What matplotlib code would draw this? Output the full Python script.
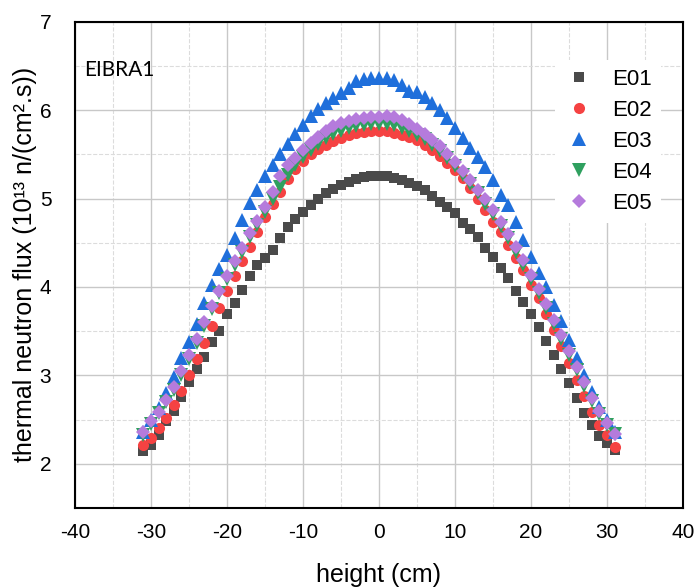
import matplotlib
matplotlib.use('Agg')
import matplotlib.pyplot as plt
from matplotlib.ticker import MultipleLocator

plt.rcParams['font.family'] = ['Liberation Sans', 'DejaVu Sans']
plt.rcParams['axes.unicode_minus'] = False

# Posiciones de medida (cm)
height = list(range(-31, 32))

# Flujo de neutrones térmicos (10^13 n/(cm2.s))
e01 = [2.14, 2.21, 2.33, 2.48, 2.60, 2.76, 2.92, 3.07, 3.21, 3.38, 3.50, 3.70,
       3.82, 3.97, 4.12, 4.25, 4.33, 4.42, 4.55, 4.68, 4.77, 4.85, 4.93, 4.99,
       5.06, 5.11, 5.15, 5.19, 5.22, 5.24, 5.26, 5.26,
       5.25, 5.23, 5.21, 5.18, 5.14, 5.10, 5.03, 4.96, 4.91, 4.84, 4.72, 4.66,
       4.57, 4.44, 4.34, 4.22, 4.10, 3.95, 3.83, 3.70, 3.55, 3.39, 3.23, 3.07,
       2.91, 2.75, 2.58, 2.44, 2.31, 2.24, 2.16]
e02 = [2.21, 2.29, 2.40, 2.52, 2.66, 2.82, 3.00, 3.18, 3.37, 3.56, 3.76, 3.96,
       4.13, 4.29, 4.45, 4.62, 4.79, 4.94, 5.07, 5.22, 5.34, 5.42, 5.50, 5.56,
       5.61, 5.65, 5.69, 5.72, 5.74, 5.75, 5.76, 5.76,
       5.76, 5.74, 5.72, 5.70, 5.66, 5.61, 5.55, 5.48, 5.40, 5.32, 5.23, 5.12,
       4.99, 4.87, 4.74, 4.62, 4.48, 4.33, 4.19, 4.02, 3.87, 3.69, 3.51, 3.33,
       3.14, 2.95, 2.77, 2.59, 2.44, 2.33, 2.19]
e03 = [2.36, 2.50, 2.63, 2.80, 2.98, 3.20, 3.38, 3.58, 3.82, 4.02, 4.20, 4.36,
       4.55, 4.76, 4.95, 5.10, 5.25, 5.38, 5.50, 5.62, 5.73, 5.83, 5.93, 6.01,
       6.08, 6.14, 6.19, 6.25, 6.33, 6.35, 6.36, 6.36,
       6.36, 6.34, 6.29, 6.22, 6.20, 6.15, 6.08, 6.00, 5.91, 5.80, 5.69, 5.57,
       5.47, 5.36, 5.21, 5.04, 4.93, 4.73, 4.53, 4.34, 4.16, 4.00, 3.80, 3.61,
       3.40, 3.20, 3.00, 2.81, 2.64, 2.50, 2.36]
e04 = [2.33, 2.45, 2.57, 2.70, 2.84, 3.01, 3.19, 3.37, 3.56, 3.75, 3.93, 4.09,
       4.25, 4.40, 4.56, 4.70, 4.85, 4.99, 5.13, 5.27, 5.38, 5.47, 5.55, 5.62,
       5.68, 5.73, 5.77, 5.80, 5.82, 5.83, 5.84, 5.84,
       5.84, 5.83, 5.80, 5.77, 5.72, 5.67, 5.61, 5.54, 5.46, 5.37, 5.27, 5.17,
       5.06, 4.94, 4.82, 4.69, 4.55, 4.40, 4.25, 4.09, 3.93, 3.76, 3.58, 3.41,
       3.23, 3.06, 2.88, 2.71, 2.56, 2.44, 2.34]
e05 = [2.36, 2.48, 2.59, 2.72, 2.87, 3.05, 3.23, 3.41, 3.60, 3.79, 3.96, 4.12,
       4.29, 4.44, 4.61, 4.75, 4.91, 5.07, 5.25, 5.38, 5.46, 5.55, 5.63, 5.70,
       5.77, 5.82, 5.86, 5.88, 5.90, 5.91, 5.92, 5.92,
       5.93, 5.92, 5.89, 5.84, 5.79, 5.73, 5.66, 5.59, 5.50, 5.41, 5.31, 5.21,
       5.10, 4.99, 4.87, 4.74, 4.60, 4.45, 4.30, 4.14, 3.98, 3.81, 3.63, 3.46,
       3.28, 3.10, 2.92, 2.75, 2.60, 2.46, 2.34]

series = [('E01', e01, 's', '#4a4a4a', 7.5),
          ('E02', e02, 'o', '#f54242', 8),
          ('E03', e03, '^', '#1f6fdb', 9.5),
          ('E04', e04, 'v', '#2fa05f', 9.5),
          ('E05', e05, 'D', '#b57bdc', 7.5)]

fig = plt.figure(figsize=(6.94, 5.88), dpi=100)
ax = fig.add_axes([0.108, 0.136, 0.876, 0.827])

for nombre, vals, marca, color, tam in series:
    ax.plot(height, vals, linestyle='none', marker=marca, color=color,
            markersize=tam, markeredgewidth=0, label=nombre, zorder=3)

ax.set_xlim(-40, 40)
ax.set_ylim(1.5, 7)
ax.xaxis.set_major_locator(MultipleLocator(10))
ax.xaxis.set_minor_locator(MultipleLocator(5))
ax.yaxis.set_major_locator(MultipleLocator(1))
ax.yaxis.set_minor_locator(MultipleLocator(0.5))
ax.grid(which='major', color='#c8c8c8', linewidth=1.0, zorder=0)
ax.grid(which='minor', color='#dcdcdc', linewidth=0.8, linestyle='--', zorder=0)
ax.set_axisbelow(True)
ax.tick_params(which='both', length=0, labelsize=15)
ax.tick_params(axis='x', pad=11)
ax.tick_params(axis='y', pad=17)
ax.set_yticks([2, 3, 4, 5, 6, 7])

for s in ax.spines.values():
    s.set_color('black')
    s.set_linewidth(1.5)

ax.set_xlabel('height (cm)', fontsize=18, labelpad=15)
ax.set_ylabel('thermal neutron flux (10¹³ n/(cm².s))', fontsize=18, labelpad=2)

ax.text(0.015, 0.90, 'EIBRA1', transform=ax.transAxes, fontsize=15,
        family=['Lato', 'DejaVu Sans'], va='center', ha='left')

leg = ax.legend(loc='upper right', bbox_to_anchor=(0.975, 0.935), fontsize=16,
                frameon=True, framealpha=1, edgecolor='none', facecolor='white',
                handletextpad=0.8, labelspacing=0.45, borderaxespad=0.3,
                handlelength=1.4)

plt.savefig('out.png', dpi=100)
